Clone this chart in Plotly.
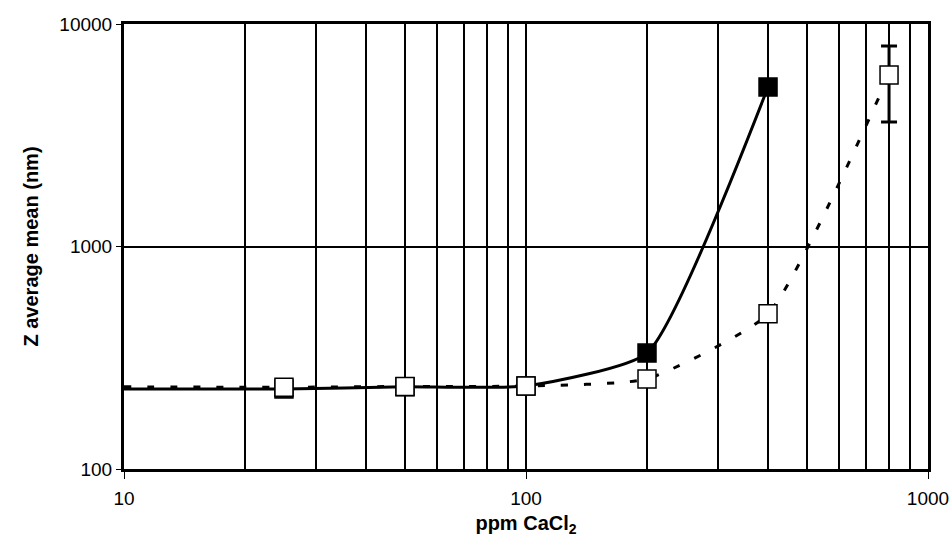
import plotly.graph_objects as go

# Data
conc_solid = [10, 25, 50, 100, 200, 400]
size_solid = [229, 229, 234, 236, 332, 5210]

conc_dash = [10, 25, 50, 100, 200, 400, 800]
size_dash = [234, 233, 235, 236, 254, 498, 5900]

marker_solid_x = [25, 50, 100, 200, 400]
marker_solid_y = [229, 234, 236, 332, 5210]

marker_open_x = [25, 50, 100, 200, 400, 800]
marker_open_y = [233, 235, 236, 254, 498, 5900]
err_plus = [0, 0, 0, 0, 0, 2060]
err_minus = [0, 0, 0, 0, 0, 2270]

minor_x = [20, 30, 40, 50, 60, 70, 80, 90, 200, 300, 400, 500, 600, 700, 800, 900]

fig = go.Figure()

fig.add_trace(go.Scatter(x=conc_dash, y=size_dash, mode="lines",
                         line=dict(color="black", width=3, dash="7px,16px", shape="spline", smoothing=0.5),
                         showlegend=False, hoverinfo="skip"))
fig.add_trace(go.Scatter(x=conc_solid, y=size_solid, mode="lines",
                         line=dict(color="black", width=3, shape="spline", smoothing=0.5),
                         showlegend=False, hoverinfo="skip"))
fig.add_trace(go.Scatter(x=marker_solid_x, y=marker_solid_y, mode="markers",
                         marker=dict(symbol="square", size=18, color="black",
                                     line=dict(color="black", width=1.5)),
                         showlegend=False))
fig.add_trace(go.Scatter(x=marker_open_x, y=marker_open_y, mode="markers",
                         marker=dict(symbol="square", size=18, color="white",
                                     line=dict(color="black", width=1.5)),
                         error_y=dict(type="data", symmetric=False, array=err_plus,
                                      arrayminus=err_minus, color="black",
                                      thickness=3, width=8),
                         showlegend=False))

font = "Liberation Sans, Arial, sans-serif"

fig.update_layout(
    width=952, height=557,
    margin=dict(l=124, r=24, t=24, b=88, autoexpand=False),
    plot_bgcolor="white", paper_bgcolor="white",
    font=dict(family=font, size=19, color="black"),
    xaxis=dict(type="log", range=[1, 3], showline=True, linecolor="black", linewidth=3,
               mirror=True, ticks="outside", ticklen=7, tickcolor="black",
               ticklabelstandoff=3,
               tickvals=[10, 100, 1000], ticktext=["10", "100", "1000"],
               tickfont=dict(size=19), automargin=False,
               showgrid=True, gridcolor="black", gridwidth=1.5, zeroline=False,
               minor=dict(tickvals=minor_x, showgrid=True, gridcolor="black",
                          gridwidth=1.5, ticks=""),
               title=dict(text="<b>ppm CaCl<sub>2</sub></b>", font=dict(size=20), standoff=9)),
    yaxis=dict(type="log", range=[2, 4], showline=True, linecolor="black", linewidth=3,
               mirror=True, ticks="outside", ticklen=5, tickcolor="black",
               tickvals=[100, 1000, 10000], ticktext=["100", "1000", "10000"],
               tickfont=dict(size=19), automargin=False,
               showgrid=True, gridcolor="black", gridwidth=1.5, zeroline=False,
               title=dict(text="<b>Z average mean (nm)</b>", font=dict(size=20), standoff=16)),
)

fig.write_html(
    "out.html",
    config={"displayModeBar": False},
    post_script=(
        "document.body.style.margin='0';"
        "document.body.style.overflow='hidden';"
        "document.documentElement.style.overflow='hidden';"
    ),
)
